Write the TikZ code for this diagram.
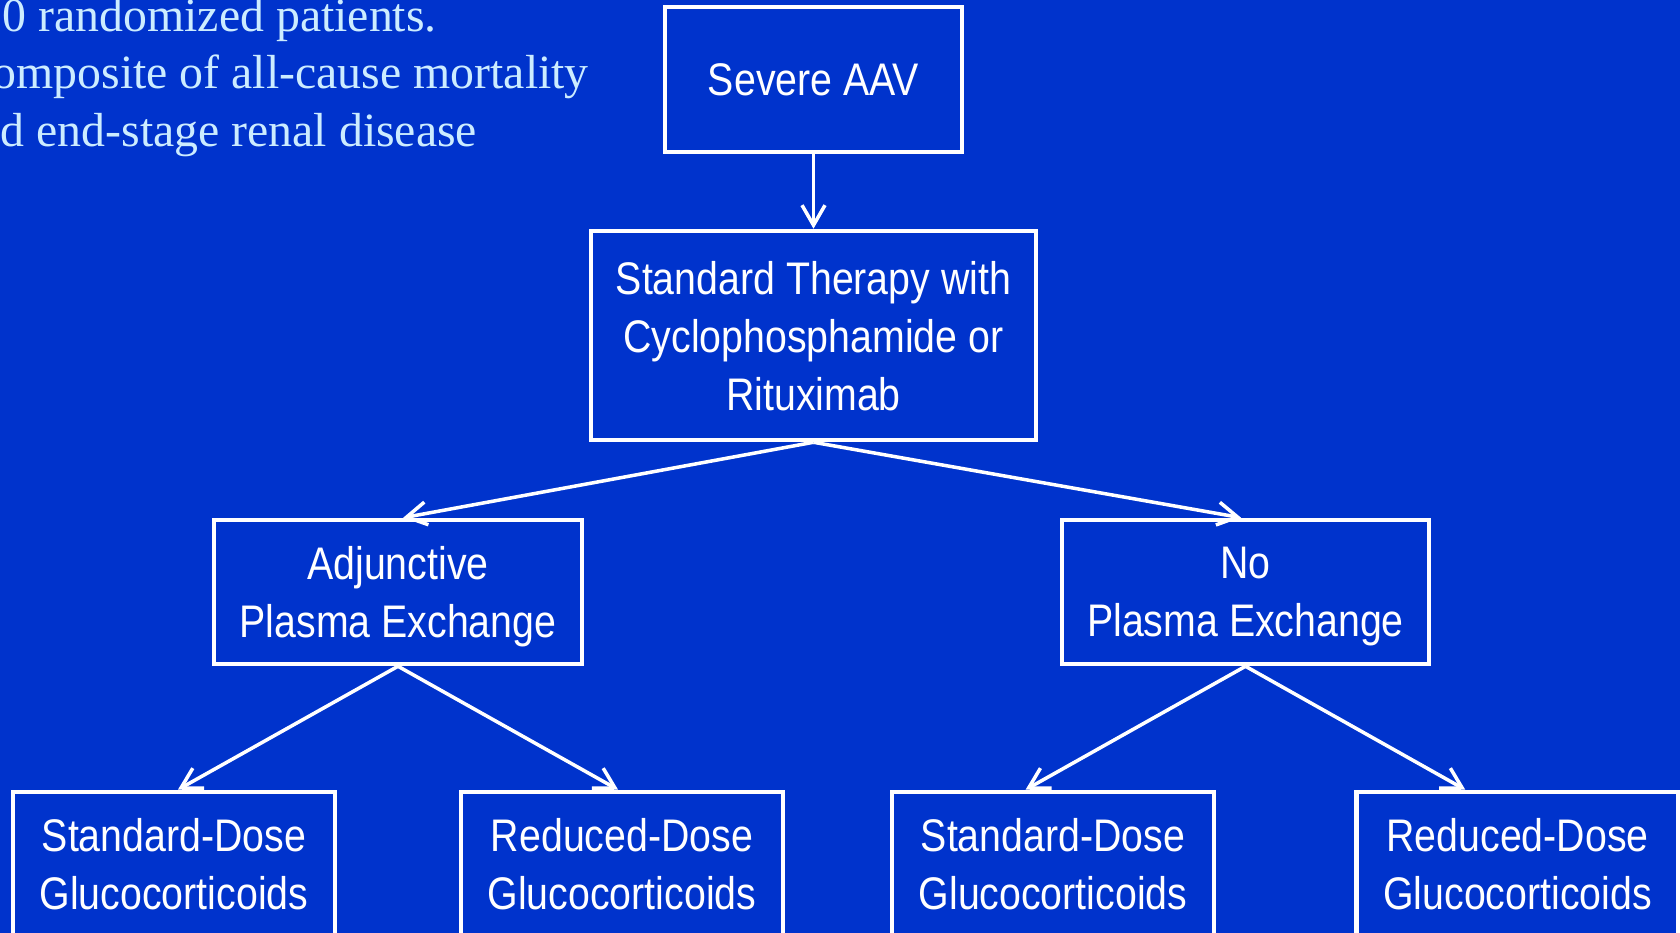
\documentclass[tikz,border=0pt]{standalone}
\usepackage{fontspec}
\usepackage{tikz}
\usetikzlibrary{arrows.meta,calc}
\newfontfamily\boxfont[FakeStretch=0.86]{Liberation Sans}
\newfontfamily\notefont{Liberation Serif}
\definecolor{slideblue}{RGB}{0,51,204}
\definecolor{notecyan}{RGB}{204,236,255}
\tikzset{
  stepbox/.style={draw=white, line width=1.3pt, text=white, align=center,
    inner sep=0pt, text depth=-0.09cm, font=\boxfont\fontsize{13pt}{16.5pt}\selectfont},
  link/.style={-{Straight Barb[length=2mm,width=2.3mm]}, white, line width=1pt},
  note/.style={anchor=base west, inner sep=0pt, text=notecyan,
    font=\notefont\fontsize{13.6pt}{16.2pt}\selectfont},
}
\begin{document}
\begin{tikzpicture}
  \clip (0,0) rectangle (16.8,9.33);
  \fill[slideblue] (0,0) rectangle (16.8,9.33);
  % notes in the upper left
  \node[note] (note1) at (0.02,9.01) {0 randomized patients.};
  \node[note] (note2) at (-0.08,8.44) {omposite of all-cause mortality};
  \node[note] (note3) at (0,7.86) {d end-stage renal disease};
  % boxes
  \node[stepbox, minimum width=2.97cm, minimum height=1.45cm] (aav) at (8.135,8.535) {Severe AAV};
  \node[stepbox, minimum width=4.45cm, minimum height=2.09cm] (therapy) at (8.135,5.975)
    {Standard Therapy with\\Cyclophosphamide or\\Rituximab};
  \node[stepbox, minimum width=3.68cm, minimum height=1.44cm] (plex) at (3.98,3.41)
    {Adjunctive\\Plasma Exchange};
  \node[stepbox, minimum width=3.67cm, minimum height=1.44cm] (noplex) at (12.455,3.41)
    {No\\Plasma Exchange};
  \node[stepbox, minimum width=3.22cm, minimum height=1.44cm] (plexstd) at (1.74,0.69)
    {Standard-Dose\\Glucocorticoids};
  \node[stepbox, minimum width=3.22cm, minimum height=1.44cm] (plexred) at (6.22,0.69)
    {Reduced-Dose\\Glucocorticoids};
  \node[stepbox, minimum width=3.22cm, minimum height=1.44cm] (noplexstd) at (10.53,0.69)
    {Standard-Dose\\Glucocorticoids};
  \node[stepbox, minimum width=3.22cm, minimum height=1.44cm] (noplexred) at (15.175,0.69)
    {Reduced-Dose\\Glucocorticoids};
  % arrows
  \draw[link] (aav.south) -- (therapy.north);
  \draw[link] (therapy.south) -- ($(plex.north west)!0.514!(plex.north east)$);
  \draw[link] (therapy.south) -- ($(noplex.north west)!0.488!(noplex.north east)$);
  \draw[link] (plex.south) -- ($(plexstd.north west)!0.512!(plexstd.north east)$);
  \draw[link] (plex.south) -- ($(plexred.north west)!0.488!(plexred.north east)$);
  \draw[link] (noplex.south) -- ($(noplexstd.north west)!0.416!(noplexstd.north east)$);
  \draw[link] (noplex.south) -- ($(noplexred.north west)!0.34!(noplexred.north east)$);
\end{tikzpicture}
\end{document}
